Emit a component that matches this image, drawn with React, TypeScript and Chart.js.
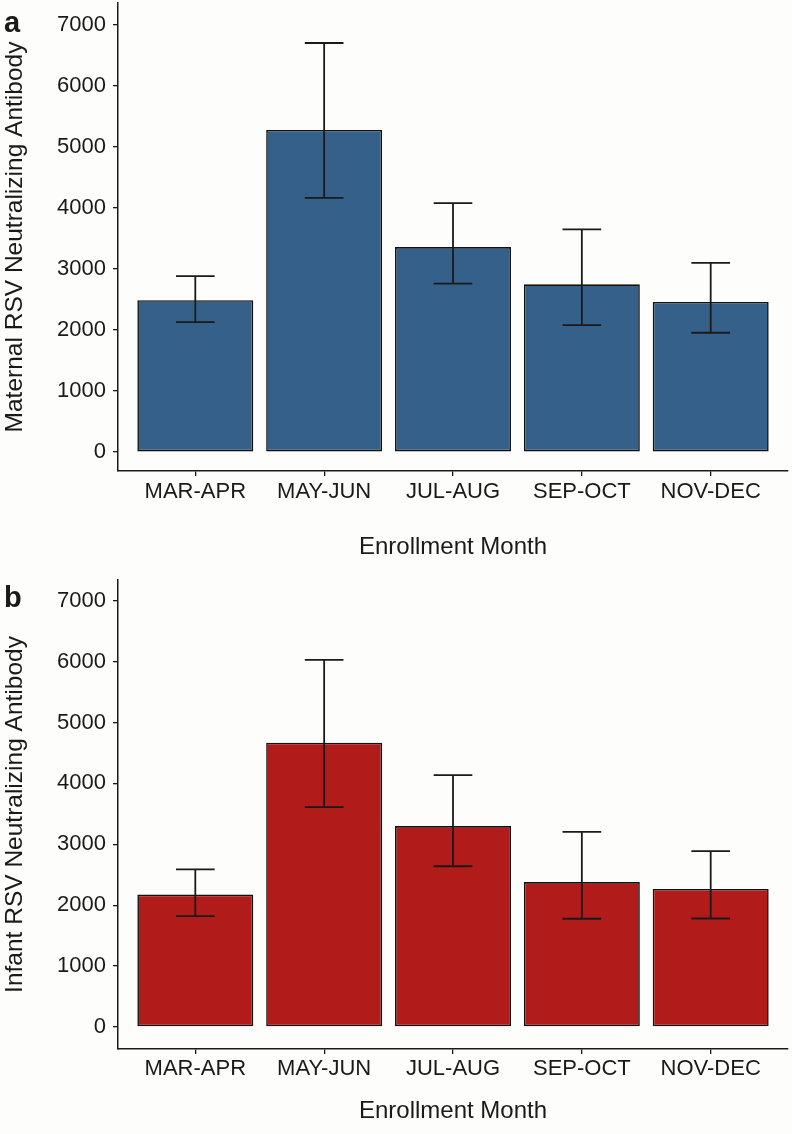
import React, { useEffect, useRef } from "react";
import { Chart, registerables } from "chart.js";

Chart.register(...registerables);

const categories = ["MAR-APR", "MAY-JUN", "JUL-AUG", "SEP-OCT", "NOV-DEC"];
const maternalMeans = [2490, 5280, 3360, 2750, 2460];
const maternalLower = [2130, 4165, 2760, 2080, 1955];
const maternalUpper = [2885, 6705, 4080, 3650, 3100];
const infantMeans = [2175, 4668, 3300, 2380, 2268];
const infantLower = [1822, 3612, 2640, 1778, 1782];
const infantUpper = [2590, 6030, 4135, 3205, 2888];
const yTickValues = [0, 1000, 2000, 3000, 4000, 5000, 6000, 7000];

const FONT = '"Liberation Sans", Arial, Helvetica, sans-serif';
const INK = "#1a1a1a";

type PanelSpec = {
  label: string;
  yTitle: string;
  means: number[];
  lower: number[];
  upper: number[];
  color: string;
  canvasHeight: number;
  padTop: number;
  xAxisHeight: number;
  xTitlePadBottom: number;
  xTickPad: number;
  yMin: number;
  yMax: number;
  labelBaseline: number;
};

function zeroPad(s: any) {
  s.paddingTop = 0;
  s.paddingBottom = 0;
  s.paddingLeft = 0;
  s.paddingRight = 0;
}

function makeConfig(p: PanelSpec): any {
  const errorBars = {
    id: "errorBars",
    afterDatasetsDraw(chart: any) {
      const { ctx, scales } = chart;
      const x = scales.x;
      const y = scales.y;
      ctx.save();
      ctx.strokeStyle = INK;
      ctx.lineWidth = 1.8;
      p.lower.forEach((lo, i) => {
        const hi = p.upper[i];
        const cx = x.getPixelForValue(i);
        const x0 = x.getPixelForValue(i - 0.15);
        const x1 = x.getPixelForValue(i + 0.15);
        const yl = y.getPixelForValue(lo);
        const yh = y.getPixelForValue(hi);
        ctx.beginPath();
        ctx.moveTo(cx, yl);
        ctx.lineTo(cx, yh);
        ctx.moveTo(x0, yl);
        ctx.lineTo(x1, yl);
        ctx.moveTo(x0, yh);
        ctx.lineTo(x1, yh);
        ctx.stroke();
      });
      ctx.restore();
    },
  };
  const panelLabel = {
    id: "panelLabel",
    afterDraw(chart: any) {
      const ctx = chart.ctx;
      ctx.save();
      ctx.fillStyle = INK;
      ctx.font = `bold 29px ${FONT}`;
      ctx.textBaseline = "alphabetic";
      ctx.textAlign = "left";
      ctx.fillText(p.label, 4, p.labelBaseline);
      ctx.restore();
    },
  };

  return {
    type: "bar",
    data: {
      datasets: [
        {
          data: p.means.map((v, i) => ({ x: i, y: v })),
          backgroundColor: p.color,
          borderColor: "#111111",
          borderWidth: 1.6,
          borderSkipped: false,
          barPercentage: 0.9,
          categoryPercentage: 1,
        },
      ],
    },
    options: {
      animation: false,
      responsive: false,
      maintainAspectRatio: false,
      layout: { padding: { top: p.padTop, right: 4, left: 0, bottom: 0 } },
      plugins: { legend: { display: false }, tooltip: { enabled: false } },
      scales: {
        x: {
          type: "linear",
          min: -0.6,
          max: 4.6,
          offset: false,
          afterBuildTicks: (s: any) => {
            s.ticks = categories.map((_, i) => ({ value: i }));
          },
          afterFit: (s: any) => {
            s.height = p.xAxisHeight;
            zeroPad(s);
          },
          ticks: {
            callback: (v: any) => categories[v] ?? "",
            font: { family: FONT, size: 22 },
            color: INK,
            padding: p.xTickPad,
            maxRotation: 0,
            autoSkip: false,
          },
          grid: {
            offset: false,
            drawOnChartArea: false,
            drawTicks: true,
            tickLength: 5,
            color: INK,
            lineWidth: 1.3,
          },
          border: { display: true, color: INK, width: 1.5 },
          title: {
            display: true,
            text: "Enrollment Month",
            font: { family: FONT, size: 24 },
            color: INK,
            padding: { top: 0, bottom: p.xTitlePadBottom },
          },
        },
        y: {
          type: "linear",
          min: p.yMin,
          max: p.yMax,
          afterBuildTicks: (s: any) => {
            s.ticks = yTickValues.map((v) => ({ value: v }));
          },
          afterFit: (s: any) => {
            s.width = 118;
            zeroPad(s);
          },
          ticks: {
            font: { family: FONT, size: 22 },
            color: INK,
            padding: 7,
            callback: (v: any) => String(v),
          },
          grid: {
            offset: false,
            drawOnChartArea: false,
            drawTicks: true,
            tickLength: 5,
            color: INK,
            lineWidth: 1.3,
          },
          border: { display: true, color: INK, width: 1.5 },
          title: {
            display: true,
            text: p.yTitle,
            font: { family: FONT, size: 24.5 },
            color: INK,
            padding: { top: 1, bottom: 0 },
          },
        },
      },
    },
    plugins: [errorBars, panelLabel],
  };
}

const panels: { top: number; spec: PanelSpec }[] = [
  {
    top: 0,
    spec: {
      label: "a",
      yTitle: "Maternal RSV Neutralizing Antibody",
      means: maternalMeans,
      lower: maternalLower,
      upper: maternalUpper,
      color: "#35608a",
      canvasHeight: 565,
      padTop: 3,
      xAxisHeight: 94,
      xTitlePadBottom: 3.6,
      xTickPad: 3,
      yMin: -311,
      yMax: 7361,
      labelBaseline: 32,
    },
  },
  {
    top: 565,
    spec: {
      label: "b",
      yTitle: "Infant RSV Neutralizing Antibody",
      means: infantMeans,
      lower: infantLower,
      upper: infantUpper,
      color: "#b11c1b",
      canvasHeight: 569,
      padTop: 15,
      xAxisHeight: 85,
      xTitlePadBottom: 8.6,
      xTickPad: 1.5,
      yMin: -361,
      yMax: 7340,
      labelBaseline: 41.7,
    },
  },
];

function Panel({ top, spec }: { top: number; spec: PanelSpec }) {
  const ref = useRef<HTMLCanvasElement | null>(null);
  useEffect(() => {
    if (!ref.current) return;
    const chart = new Chart(ref.current, makeConfig(spec));
    return () => chart.destroy();
  }, []);
  return (
    <canvas
      ref={ref}
      width={792}
      height={spec.canvasHeight}
      style={{
        position: "absolute",
        left: 0,
        top,
        width: 792,
        height: spec.canvasHeight,
        display: "block",
      }}
    />
  );
}

export default function App() {
  return (
    <div
      style={{
        position: "absolute",
        left: 0,
        top: 0,
        width: 792,
        height: 1134,
        background: "#fdfdfb",
        overflow: "hidden",
      }}
    >
      {panels.map((pn) => (
        <Panel key={pn.spec.label} top={pn.top} spec={pn.spec} />
      ))}
    </div>
  );
}
